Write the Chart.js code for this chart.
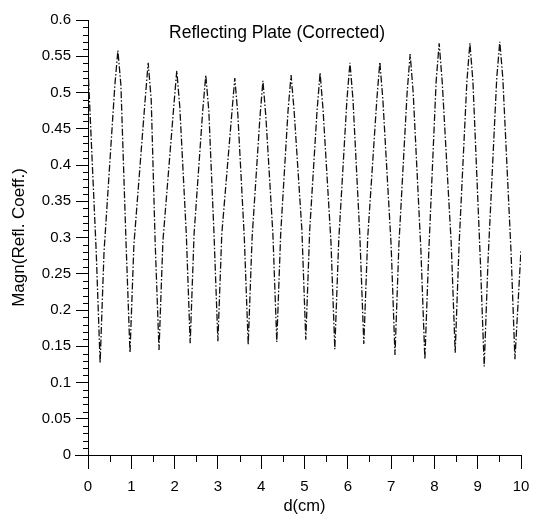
<!DOCTYPE html>
<html>
<head>
<meta charset="utf-8">
<script src="https://cdn.jsdelivr.net/npm/chart.js@4"></script>
<style>
  body { margin: 0; background: #fff; }
</style>
</head>
<body>
<canvas id="plateChart" width="535" height="516"></canvas>
<script>
// chart text
const titleText = 'Reflecting Plate (Corrected)';
const xTitle = 'd(cm)';
const yTitle = 'Magn(Refl. Coeff.)';

// distance d (cm): troughs, peaks and the points between
const dCm = [0.00, 0.19, 0.28, 0.37, 0.62, 0.69, 0.76, 0.88, 0.97, 1.06, 1.32, 1.39, 1.46,
  1.55, 1.64, 1.73, 1.98, 2.05, 2.12, 2.27, 2.36, 2.45, 2.65, 2.72, 2.79, 2.91, 3.00, 3.09,
  3.32, 3.39, 3.46, 3.61, 3.70, 3.79, 3.97, 4.04, 4.11, 4.27, 4.36, 4.45, 4.62, 4.69, 4.76,
  4.94, 5.03, 5.12, 5.29, 5.36, 5.43, 5.61, 5.70, 5.79, 5.98, 6.05, 6.12, 6.28, 6.37, 6.46,
  6.67, 6.74, 6.81, 7.00, 7.09, 7.18, 7.37, 7.44, 7.51, 7.69, 7.78, 7.87, 8.04, 8.11, 8.18,
  8.39, 8.48, 8.57, 8.75, 8.82, 8.89, 9.06, 9.15, 9.24, 9.44, 9.51, 9.58, 9.77, 9.86, 10.00];

// magnitude of reflection coefficient at each d
const magn = [0.535, 0.28, 0.127, 0.28, 0.51, 0.558, 0.51, 0.29, 0.141, 0.29, 0.49, 0.541, 0.49,
  0.295, 0.145, 0.295, 0.48, 0.530, 0.48, 0.305, 0.154, 0.305, 0.475, 0.524, 0.475, 0.305, 0.157, 0.305,
  0.47, 0.520, 0.47, 0.30, 0.152, 0.30, 0.465, 0.516, 0.465, 0.305, 0.156, 0.305, 0.475, 0.524, 0.475,
  0.31, 0.159, 0.31, 0.475, 0.527, 0.475, 0.295, 0.146, 0.295, 0.49, 0.541, 0.49, 0.30, 0.153, 0.30,
  0.49, 0.542, 0.49, 0.29, 0.138, 0.29, 0.50, 0.553, 0.50, 0.28, 0.132, 0.28, 0.515, 0.568, 0.515,
  0.29, 0.141, 0.29, 0.515, 0.568, 0.515, 0.27, 0.122, 0.27, 0.52, 0.570, 0.52, 0.28, 0.132, 0.283];

// axis ranges / tick steps
const xRange = [0, 10];
const yRange = [0, 0.6];
const xStep = 1;
const yStep = 0.05;
const xMinorStep = 0.5;
const yMinorStep = 0.01;

const FONT = '"Liberation Sans", Arial, sans-serif';

// minor ticks, axis overhang and the title inside the plot
const decorPlugin = {
  id: 'decor',
  afterDraw(chart) {
    const ctx = chart.ctx;
    const xs = chart.scales.x;
    const ys = chart.scales.y;
    const area = chart.chartArea;
    ctx.save();
    ctx.strokeStyle = '#000';
    ctx.lineWidth = 1;
    ctx.beginPath();
    // y minor ticks (outside, left)
    for (let i = 0; i <= Math.round((yRange[1] - yRange[0]) / yMinorStep); i++) {
      if (i % 5 === 0) continue;
      const py = Math.round(ys.getPixelForValue(yRange[0] + i * yMinorStep)) + 0.5;
      ctx.moveTo(area.left - 5, py);
      ctx.lineTo(area.left, py);
    }
    // x minor ticks (down)
    for (let i = 0; i <= Math.round((xRange[1] - xRange[0]) / xMinorStep); i++) {
      if (i % 2 === 0) continue;
      const px = Math.round(xs.getPixelForValue(xRange[0] + i * xMinorStep)) + 0.5;
      ctx.moveTo(px, area.bottom);
      ctx.lineTo(px, area.bottom + 7);
    }
    // axis lines run a bit past the origin
    ctx.moveTo(area.left + 0.5, area.bottom);
    ctx.lineTo(area.left + 0.5, area.bottom + 13);
    ctx.moveTo(area.left - 13, area.bottom + 0.5);
    ctx.lineTo(area.left, area.bottom + 0.5);
    ctx.stroke();

    // title sits inside the plot area
    ctx.fillStyle = '#000';
    ctx.font = '17.5px ' + FONT;
    ctx.textAlign = 'center';
    ctx.textBaseline = 'alphabetic';
    ctx.fillText(titleText, 277, 38);
    ctx.restore();
  }
};

const ctx = document.getElementById('plateChart').getContext('2d');

new Chart(ctx, {
  type: 'line',
  data: {
    datasets: [{
      label: yTitle,
      data: dCm.map((d, i) => ({ x: d, y: magn[i] })),
      borderColor: '#111',
      borderWidth: 1.3,
      borderDash: [7, 2, 1.5, 2],
      pointRadius: 0,
      tension: 0,
      fill: false
    }]
  },
  options: {
    responsive: false,
    animation: false,
    layout: { padding: { left: 0, right: 14, top: 20, bottom: 0 } },
    plugins: {
      legend: { display: false },
      tooltip: { enabled: false }
    },
    scales: {
      x: {
        type: 'linear',
        min: xRange[0],
        max: xRange[1],
        afterFit: (scale) => {
          scale.height = 61;
          // keep the "10" label from pulling the plot in
          scale.paddingLeft = 0;
          scale.paddingRight = 0;
        },
        border: { display: true, color: '#000', width: 1 },
        grid: { drawOnChartArea: false, drawTicks: true, tickLength: 14, color: '#000' },
        ticks: {
          stepSize: xStep,
          color: '#000',
          padding: 9,
          maxRotation: 0,
          font: { family: FONT, size: 15 }
        },
        title: {
          display: true,
          text: xTitle,
          color: '#000',
          padding: { top: 0, bottom: 0 },
          font: { family: FONT, size: 16.5 }
        }
      },
      y: {
        min: yRange[0],
        max: yRange[1],
        afterFit: (scale) => { scale.width = 88; },
        border: { display: true, color: '#000', width: 1 },
        grid: { drawOnChartArea: false, drawTicks: true, tickLength: 12, color: '#000' },
        ticks: {
          stepSize: yStep,
          color: '#000',
          padding: 5,
          font: { family: FONT, size: 15 },
          callback: (v) => String(Number(v.toFixed(2)))
        },
        title: {
          display: true,
          text: yTitle,
          color: '#000',
          padding: { top: 9, bottom: 0 },
          font: { family: FONT, size: 17 }
        }
      }
    }
  },
  plugins: [decorPlugin]
});
</script>
</body>
</html>
